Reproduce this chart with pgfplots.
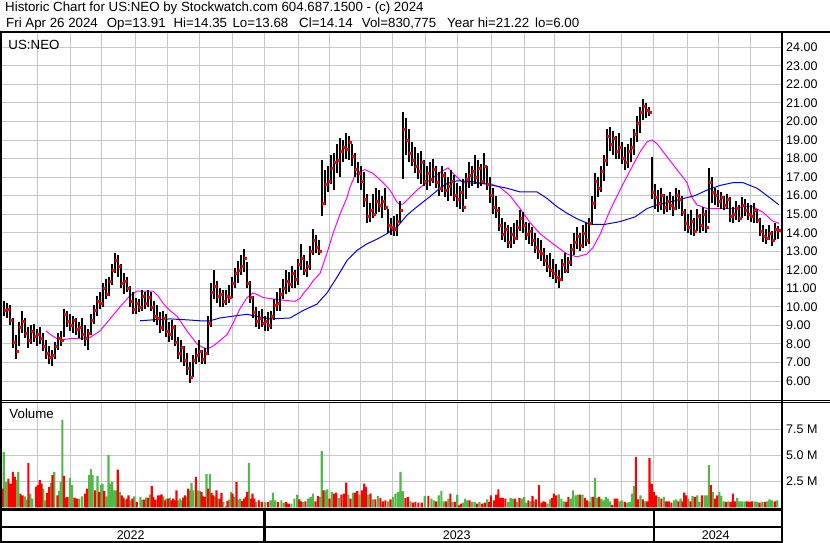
\documentclass[border=0pt]{standalone}
\usepackage{fontspec}
\setmainfont{Liberation Sans}
\usepackage{pgfplots}
\usepackage{pgfplotstable}
\pgfplotsset{compat=1.18}
\definecolor{gridgray}{RGB}{200,200,200}
\definecolor{vgreen}{RGB}{80,185,72}
\definecolor{vred}{RGB}{255,0,0}
\definecolor{mamag}{RGB}{255,0,255}
\definecolor{mablue}{RGB}{0,0,255}

\pgfplotstableread{
x h l c
4 10.3 9.5 9.8
7 10.2 9.4 9.9
10 10.1 9.0 9.3
13 9.4 7.8 8.1
16 8.5 7.2 7.6
19 9.2 7.9 8.9
22 9.8 8.6 9.2
25 9.4 8.3 8.6
28 8.9 7.8 8.2
31 9.0 8.0 8.7
34 9.1 8.1 8.4
37 8.8 7.9 8.5
40 8.9 8.0 8.3
43 8.6 7.6 7.9
46 8.2 7.2 7.5
49 7.9 6.9 7.3
52 7.7 6.8 7.4
55 8.1 7.2 7.9
58 8.6 7.7 8.3
61 8.7 7.9 8.2
64 9.9 8.4 9.6
67 9.8 8.9 9.2
70 9.6 8.7 9.0
73 9.5 8.6 9.3
76 9.4 8.5 8.8
79 9.2 8.3 8.9
82 9.4 8.2 8.5
85 9.0 7.9 8.3
88 8.8 7.7 8.6
91 9.6 8.5 9.3
94 10.1 9.1 9.8
97 10.6 9.5 10.3
100 10.8 9.9 10.2
103 11.3 10.0 11.0
106 11.5 10.4 10.7
109 11.6 10.6 11.4
112 12.3 11.2 12.0
115 12.9 11.8 12.5
118 12.8 11.6 12.2
121 12.3 11.0 11.3
124 11.8 10.7 11.4
127 11.6 10.8 11.0
130 11.1 10.0 10.3
133 10.8 9.6 9.9
136 10.5 9.6 10.2
139 10.4 9.7 10.0
142 10.9 9.8 10.6
145 10.8 9.9 10.2
148 10.9 10.0 10.5
151 10.8 9.8 10.0
154 10.3 9.2 9.5
157 10.1 9.0 9.4
160 9.7 8.6 8.9
163 9.8 8.7 9.4
166 9.6 8.4 8.7
169 9.2 8.1 8.5
172 9.3 8.2 8.9
175 9.0 7.9 8.1
178 8.4 7.2 7.5
181 8.2 7.0 7.8
184 7.9 6.8 7.1
187 7.5 6.3 6.7
190 7.0 5.9 6.2
193 7.4 6.2 7.1
196 7.8 6.9 7.4
199 8.2 7.0 7.6
202 7.7 6.9 7.2
205 7.8 6.9 7.5
208 9.5 7.4 9.1
211 11.3 8.9 10.8
214 12.0 10.4 11.1
217 11.4 10.2 10.6
220 11.0 10.0 10.7
223 10.9 10.0 10.3
226 10.9 10.1 10.6
229 11.2 10.2 10.5
232 11.6 10.5 11.3
235 12.1 11.0 11.8
238 12.5 11.3 12.0
241 12.8 11.7 12.2
244 13.1 11.9 12.6
247 12.4 11.0 11.3
250 11.4 10.2 10.5
253 10.6 9.4 9.7
256 10.0 8.9 9.2
259 9.8 8.8 9.4
262 9.9 8.9 9.1
265 9.5 8.7 9.2
268 9.7 8.7 9.0
271 9.8 8.8 9.5
274 10.4 9.3 10.1
277 10.8 9.8 10.2
280 11.0 9.8 10.7
283 11.5 10.4 11.0
286 12.0 10.7 11.4
289 11.9 10.8 11.2
292 12.2 11.0 11.8
295 12.0 11.0 11.5
298 12.6 11.2 12.3
301 13.4 12.0 12.6
304 12.8 11.7 12.0
307 12.5 11.6 12.2
310 13.3 12.0 13.0
313 14.2 12.8 13.6
316 13.9 12.9 13.2
319 13.6 12.8 13.0
322 17.9 14.9 15.6
325 17.4 15.5 16.6
328 17.6 16.2 16.8
331 18.2 16.6 17.5
334 18.3 16.3 17.8
337 18.8 17.2 17.9
340 19.1 17.0 18.4
343 19.0 17.8 18.6
346 19.4 18.0 18.5
349 19.2 17.9 18.9
352 18.8 17.6 18.1
355 18.3 17.0 17.4
358 17.8 16.7 17.2
361 17.6 16.3 16.8
364 17.3 15.4 15.8
367 16.1 14.5 14.9
370 15.6 14.6 15.2
373 16.1 14.8 15.0
376 16.4 15.0 15.7
379 16.3 15.1 15.5
382 16.0 14.8 15.7
385 16.4 15.2 15.4
388 15.3 14.0 14.4
391 14.8 13.9 14.3
394 14.9 13.8 14.2
397 15.0 13.8 14.6
400 15.7 14.5 15.2
403 20.5 16.9 19.6
406 20.2 18.2 19.0
409 19.6 17.8 18.3
412 18.9 17.6 17.9
415 18.6 17.2 17.6
418 18.3 16.9 17.3
421 18.4 16.6 17.8
424 17.9 16.5 16.8
427 17.6 16.3 17.2
430 17.8 16.5 16.9
433 18.0 16.7 17.4
436 17.6 16.4 16.7
439 17.3 16.0 16.4
442 17.6 16.2 17.1
445 17.3 15.9 16.3
448 17.0 15.7 16.5
451 17.4 16.0 16.8
454 17.1 15.7 16.0
457 16.7 15.4 15.8
460 16.5 15.3 16.2
463 16.9 15.1 15.4
466 17.2 15.8 16.9
469 17.8 16.4 17.1
472 17.6 16.5 17.3
475 18.2 16.6 17.0
478 17.9 16.4 17.5
481 17.7 16.5 16.8
484 18.3 16.7 17.6
487 17.6 16.3 16.6
490 17.0 15.6 16.0
493 16.4 15.0 15.4
496 16.0 14.8 15.2
499 15.4 14.1 14.4
502 14.8 13.6 13.9
505 14.6 13.5 14.2
508 14.4 13.2 13.5
511 14.3 13.2 13.9
514 14.5 13.4 13.7
517 14.7 13.6 14.3
520 15.2 14.1 14.8
523 15.1 14.0 14.4
526 14.6 13.6 13.9
529 14.5 13.4 14.1
532 14.3 13.3 13.6
535 14.0 12.9 13.2
538 13.7 12.6 13.0
541 13.6 12.5 12.9
544 13.2 12.2 12.5
547 12.8 11.9 12.2
550 12.9 11.6 12.0
553 12.6 11.5 11.8
556 12.3 11.3 11.6
559 12.0 11.0 11.5
562 12.6 11.4 12.3
565 12.9 11.8 12.0
568 12.7 11.8 12.4
571 13.4 12.2 13.1
574 14.0 12.8 13.5
577 14.3 13.1 13.8
580 14.0 13.0 13.3
583 14.4 13.2 14.0
586 14.5 13.3 13.6
589 14.8 13.4 14.5
592 16.0 14.4 15.6
595 17.2 15.3 16.8
598 17.0 15.9 16.4
601 17.6 16.2 17.3
604 18.2 16.8 17.9
607 19.6 17.6 19.2
610 19.7 18.4 18.8
613 19.5 18.2 19.1
616 19.2 18.0 18.4
619 19.4 18.0 18.6
622 18.9 17.7 18.0
625 18.6 17.4 17.8
628 18.8 17.5 18.4
631 19.1 17.8 18.6
634 19.6 18.2 19.3
637 20.3 18.9 19.9
640 20.8 19.4 20.5
643 21.2 20.1 20.8
646 21.0 20.2 20.6
649 20.8 20.3 20.5
652 18.1 15.8 16.2
655 16.6 15.3 15.9
658 16.3 15.1 15.6
661 16.4 15.2 16.0
664 16.1 15.0 15.4
667 16.0 15.1 15.7
670 16.2 15.2 15.5
673 16.0 14.9 15.3
676 16.4 15.2 16.0
679 16.3 15.3 15.8
682 16.0 14.9 15.1
685 15.3 14.1 14.5
688 15.0 14.0 14.3
691 15.2 13.9 14.6
694 14.8 13.8 14.1
697 15.3 14.1 14.9
700 15.0 14.0 14.4
703 15.4 14.1 15.0
706 15.2 14.0 14.3
709 17.5 14.5 16.7
712 17.0 15.6 16.2
715 16.4 15.5 16.0
718 16.3 15.4 15.7
721 16.2 15.3 15.9
724 16.0 15.2 15.5
727 16.1 15.3 15.8
730 15.9 14.6 14.9
733 15.4 14.5 15.0
736 15.7 14.7 15.3
739 15.5 14.6 14.8
742 15.9 14.8 15.5
745 15.8 14.9 15.2
748 15.6 14.7 15.0
751 15.5 14.6 14.9
754 15.6 14.5 15.2
757 15.3 14.5 14.7
760 14.8 13.8 14.1
763 14.4 13.5 13.8
766 14.2 13.4 13.7
769 14.4 13.6 14.0
772 14.1 13.3 13.6
775 14.5 13.6 14.2
778 14.35 13.68 14.14
}\price

\pgfplotstableread{
x v
3.7 5.32
6.0 2.44
16.5 2.60
18.2 3.40
24.7 1.06
26.7 0.74
30.2 1.31
32.2 0.83
43.2 1.80
44.8 0.67
50.8 2.34
54.2 3.40
59.0 1.57
60.6 2.44
62.3 8.40
69.8 2.82
72.0 2.12
79.0 0.83
82.0 1.06
89.2 3.08
90.8 3.66
92.5 3.08
97.5 2.98
100.8 2.12
102.5 2.28
106.3 1.06
108.5 5.00
110.5 2.28
112.2 2.44
114.0 1.63
115.8 1.63
119.7 1.47
125.2 0.74
130.5 0.67
134.2 1.06
140.3 0.99
142.5 0.74
145.8 0.93
149.8 1.25
163.2 1.06
166.5 0.83
169.8 0.93
178.2 0.67
179.8 0.83
181.5 0.67
186.5 1.06
189.8 1.63
191.5 2.34
193.2 1.63
197.7 1.63
199.7 1.57
206.5 3.17
209.8 3.17
214.8 1.06
218.2 0.83
223.2 0.51
229.2 0.74
230.8 1.47
234.2 0.99
238.3 0.74
240.2 0.83
248.8 4.26
255.8 0.51
265.0 0.51
270.5 0.67
273.0 1.41
275.3 0.67
281.3 0.67
283.8 0.45
291.3 0.35
294.3 0.83
297.2 1.22
302.8 0.51
308.0 0.83
310.5 0.99
312.8 1.31
320.0 0.99
321.7 5.38
325.0 1.63
327.2 1.73
331.7 1.47
338.7 0.90
348.3 1.22
352.8 1.41
359.5 1.22
368.0 1.22
372.8 0.77
377.8 1.09
388.0 0.58
392.8 0.99
395.3 1.31
398.0 1.47
400.5 3.40
402.8 1.54
410.5 0.58
424.7 1.09
431.3 0.83
433.8 0.67
438.7 1.15
441.3 1.54
443.8 0.58
448.3 0.83
452.3 0.51
457.2 1.22
462.8 0.45
465.0 0.83
467.2 0.67
472.0 0.51
474.7 0.51
479.5 0.51
487.2 0.77
508.0 0.51
510.5 0.90
512.8 0.83
517.2 0.51
522.0 0.83
524.2 0.99
526.2 0.45
530.5 0.58
534.2 0.58
547.3 0.35
549.8 0.77
558.7 1.25
561.3 0.83
563.8 0.58
570.5 0.83
572.8 1.63
575.5 1.15
577.8 1.22
582.5 1.22
589.3 0.51
591.5 0.99
595.0 2.82
597.0 0.90
601.2 0.83
603.5 0.67
605.7 0.99
607.8 0.83
610.2 0.58
619.5 0.58
622.0 0.67
627.2 0.45
629.5 0.51
632.0 1.31
634.0 2.05
640.5 1.15
645.0 0.58
658.7 0.99
663.8 0.99
673.8 0.67
676.2 0.77
680.5 0.83
688.3 0.83
692.5 1.09
697.2 1.15
699.5 0.51
704.7 1.15
706.5 1.15
708.8 4.04
712.7 1.47
719.3 1.47
721.3 1.09
723.8 0.58
728.3 0.58
737.2 0.90
739.5 0.58
742.0 0.58
744.7 0.58
754.7 0.58
757.2 0.51
762.0 0.51
767.2 0.58
769.5 0.77
772.0 0.67
777.2 0.67
}\volg

\pgfplotstableread{
x v
2.5 1.80
8.3 2.76
10.5 2.28
12.8 3.40
14.8 2.92
20.3 1.31
22.5 1.15
28.3 4.26
35.8 1.96
37.7 2.12
39.7 2.60
41.5 2.28
47.0 1.38
49.2 1.96
52.5 3.08
57.5 1.15
64.0 3.01
65.6 0.93
67.5 0.99
74.5 0.93
76.8 0.83
85.0 1.31
87.0 1.80
95.0 1.63
99.2 1.47
104.2 1.57
117.7 3.62
121.7 1.15
123.5 0.93
126.8 0.83
128.5 1.15
132.5 0.83
136.7 0.51
144.2 0.74
147.8 0.93
151.7 2.02
153.3 0.99
155.3 0.74
157.8 1.15
159.8 1.15
161.5 1.25
164.8 0.67
168.2 0.83
171.5 0.67
173.2 0.83
174.8 0.67
176.5 1.63
183.2 0.93
184.8 1.15
188.2 1.80
195.8 2.92
201.5 1.47
203.2 1.06
204.8 0.99
208.2 1.80
211.5 1.38
213.2 1.15
216.5 1.63
219.8 0.83
221.5 1.38
225.8 0.10
227.5 0.61
232.5 1.31
236.5 2.44
241.8 0.61
244.2 0.83
245.8 0.99
247.2 1.47
250.8 0.83
252.5 1.31
254.2 0.83
258.7 0.67
261.7 0.51
268.0 0.51
278.0 0.51
286.2 0.51
288.7 0.35
299.2 0.77
300.8 0.58
305.3 0.58
315.3 0.58
318.0 1.09
323.3 1.63
329.5 0.83
333.8 1.31
336.2 1.41
341.3 1.22
343.8 1.31
346.2 2.37
350.5 0.83
355.0 1.41
357.2 1.54
362.0 1.63
364.2 2.28
365.8 1.96
370.5 1.31
375.3 0.77
380.3 0.90
382.8 0.58
385.3 0.67
390.5 0.77
405.3 0.90
408.0 0.99
412.8 0.45
415.3 0.51
418.3 0.45
421.7 0.45
428.3 1.09
436.2 0.58
446.2 0.58
450.3 1.31
454.7 0.51
459.2 0.19
460.8 0.35
469.5 0.67
477.2 0.35
482.0 0.35
484.7 0.45
489.2 0.51
490.8 1.15
493.8 0.67
496.2 1.22
498.3 1.73
500.5 0.90
502.8 0.90
505.3 0.83
515.0 0.83
519.5 0.90
528.3 0.67
532.5 1.09
535.8 0.77
538.8 2.12
541.3 0.45
543.5 0.58
545.2 0.51
552.0 0.90
553.8 1.31
556.2 1.15
566.2 0.51
568.3 0.99
580.0 1.22
584.8 0.90
587.2 0.67
593.2 0.99
599.0 0.99
612.0 0.20
614.7 0.83
617.2 0.83
624.7 0.51
635.8 4.84
638.0 0.77
642.8 0.77
647.2 0.58
649.5 4.74
651.7 2.28
653.8 1.47
656.2 1.15
661.3 0.83
666.2 0.58
668.7 0.58
671.3 0.45
678.3 0.58
682.5 0.58
684.2 1.41
686.2 1.15
690.5 0.58
694.7 0.99
702.0 1.15
710.8 2.12
715.2 0.83
717.2 1.15
726.2 0.51
730.5 0.51
732.8 1.31
735.0 0.58
747.2 0.58
749.5 0.51
752.0 0.58
759.5 0.45
764.7 0.51
774.7 0.58
}\volr

\begin{document}
\begin{tikzpicture}[x=1bp,y=1bp]
\useasboundingbox (0,0) rectangle (830,-543);
\fill[white] (0,0) rectangle (830,-543);

% Titles
\begin{scope}[every node/.style={inner sep=0pt, anchor=base west, font=\fontsize{13.3bp}{15bp}\selectfont}]
\node at (5,-12) {Historic Chart for US:NEO by Stockwatch.com 604.687.1500 - (c) 2024};
\node at (6,-27.3) {Fri Apr 26 2024};
\node at (106.7,-27.3) {Op=13.91};
\node at (173.3,-27.3) {Hi=14.35};
\node at (232.3,-27.3) {Lo=13.68};
\node at (299,-27.3) {Cl=14.14};
\node at (361.7,-27.3) {Vol=830,775};
\node at (447,-27.3) {Year hi=21.22};
\node at (535,-27.3) {lo=6.00};
\end{scope}

% Price panel
\begin{axis}[
  at={(2bp,-400.3bp)}, anchor=south west,
  scale only axis, width=779bp, height=367bp,
  xmin=2, xmax=781, ymin=4.96, ymax=24.755,
  axis line style={draw=none}, tick style={draw=none},
  xtick={37.3,70.7,101.7,135.7,167.3,199.3,232.3,264.3,298.3,329,360,392.7,425.7,457.7,491,524.3,554.3,589,621,653.7,687.7,718.3,750},
  xticklabels={},
  ytick={6,7,...,24},
  yticklabel pos=right,
  grid=major, grid style={color=gridgray, line width=0.9bp},
  /pgf/number format/.cd, fixed, fixed zerofill, precision=2, assume math mode=true,
  /pgfplots/.cd,
  yticklabel style={font=\fontsize{12.5bp}{14bp}\selectfont, anchor=west, inner sep=0pt, xshift=5bp},
  clip=true,
]
\addplot[mamag, line width=1bp] table {
x y
46 8.7
52 8.45
58 8.25
65 8.25
72 8.3
80 8.3
90 8.35
100 8.7
110 9.35
120 10.0
130 10.6
137 10.85
143 10.85
153 10.85
158 10.6
163 10.2
170 9.8
177 9.5
187 8.7
197 8.0
203 7.8
208 7.75
212 7.85
217 8.05
227 8.5
233 9.1
240 9.9
247 10.5
253 10.75
258 10.65
263 10.5
270 10.45
277 10.4
285 10.35
295 10.3
300 10.45
303 10.7
308 11.0
313 11.4
320 11.8
327 12.9
333 13.95
340 15.0
347 15.9
350 16.45
355 17.1
360 17.3
365 17.4
373 17.2
383 16.7
390 16.3
397 15.65
400 15.5
403 15.55
407 15.75
417 16.3
423 16.55
430 16.85
440 17.25
448 17.5
453 17.2
463 16.7
477 16.65
490 16.65
500 16.45
510 16.0
520 15.3
530 14.55
540 13.95
553 13.4
567 12.85
577 12.7
587 12.85
593 13.2
600 13.9
610 15.2
620 16.3
630 17.35
640 18.35
647 18.9
652 19.0
657 18.8
667 18.1
677 17.4
687 16.7
692 15.9
697 15.5
707 15.3
720 15.3
733 15.3
743 15.4
753 15.4
763 15.1
772 14.65
779 14.5
};
\addplot[mablue, line width=1bp] table {
x y
140 9.25
153 9.3
170 9.35
187 9.3
200 9.25
210 9.25
220 9.4
233 9.5
247 9.6
260 9.45
270 9.35
290 9.4
303 9.8
317 10.15
327 10.75
337 11.6
347 12.5
357 13.05
367 13.4
377 13.65
387 13.95
397 14.3
407 14.95
417 15.4
430 15.95
440 16.4
447 16.65
457 16.8
473 16.75
493 16.55
507 16.4
520 16.2
537 16.2
547 15.85
557 15.4
567 15.05
577 14.75
590 14.45
605 14.45
620 14.6
635 14.85
647 15.3
657 15.5
670 15.65
680 15.8
695 16.0
707 16.3
720 16.55
733 16.7
743 16.7
757 16.4
767 16.0
779 15.5
};
\addplot[draw=none, mark=none,
  error bars/.cd, y dir=both, y explicit, error mark=none,
  error bar style={black, line width=1.4bp}]
  table[x=x, y=c, y error plus expr=\thisrow{h}-\thisrow{c}, y error minus expr=\thisrow{c}-\thisrow{l}] {\price};
\addplot[only marks, color=vred, fill=vred, mark=square*, mark size=1bp]
  table[x expr=\thisrow{x}+0.9, y=c] {\price};
\node[anchor=base west, inner sep=0pt, font=\fontsize{13.3bp}{15bp}\selectfont] at (axis cs:8.3,23.9) {US:NEO};
\end{axis}

% Volume panel
\begin{axis}[
  at={(2bp,-509.5bp)}, anchor=south west,
  scale only axis, width=779bp, height=107.1bp,
  xmin=2, xmax=781, ymin=-0.21, ymax=10.05,
  axis line style={draw=none}, tick style={draw=none},
  xtick={37.3,70.7,101.7,135.7,167.3,199.3,232.3,264.3,298.3,329,360,392.7,425.7,457.7,491,524.3,554.3,589,621,653.7,687.7,718.3,750},
  xticklabels={},
  ytick={2.5,5,7.5}, yticklabels={2.5 M,5.0 M,7.5 M},
  yticklabel pos=right,
  grid=major, grid style={color=gridgray, line width=0.9bp},
  yticklabel style={font=\fontsize{12.5bp}{14bp}\selectfont, anchor=west, inner sep=0pt, xshift=5bp},
  clip=true,
]
\addplot[ybar, bar width=2.1, bar shift=0pt, fill=vgreen, draw=none] table[x=x, y=v] {\volg};
\addplot[ybar, bar width=2.1, bar shift=0pt, fill=vred, draw=none] table[x=x, y=v] {\volr};
\node[anchor=base west, inner sep=0pt, font=\fontsize{13.3bp}{15bp}\selectfont] at (axis cs:9.3,8.55) {Volume};
\end{axis}

% Frame lines
\draw[line width=2.3bp] (0,-32.2) -- (830,-32.2);
\draw[line width=1.3bp] (0,-400.3) -- (830,-400.3);
\draw[line width=1.3bp] (0,-402.5) -- (830,-402.5);
\draw[line width=2.2bp] (0,-509.5) -- (782,-509.5);
\draw[line width=2.2bp] (0,-527.2) -- (782,-527.2);
\draw[line width=2bp] (0,-541.8) -- (782,-541.8);
\draw[line width=2bp] (1,-31) -- (1,-542.8);
\draw[line width=2.3bp] (782.2,-31) -- (782.2,-542.8);
\draw[line width=2.2bp] (264.4,-509.5) -- (264.4,-541.8);
\draw[line width=2.2bp] (654,-509.5) -- (654,-541.8);

\begin{scope}[every node/.style={inner sep=0pt, anchor=base, font=\fontsize{12.5bp}{14bp}\selectfont}]
\node at (130.7,-539.3) {2022};
\node at (456.7,-539.3) {2023};
\node at (715.7,-539.3) {2024};
\end{scope}
\end{tikzpicture}
\end{document}
